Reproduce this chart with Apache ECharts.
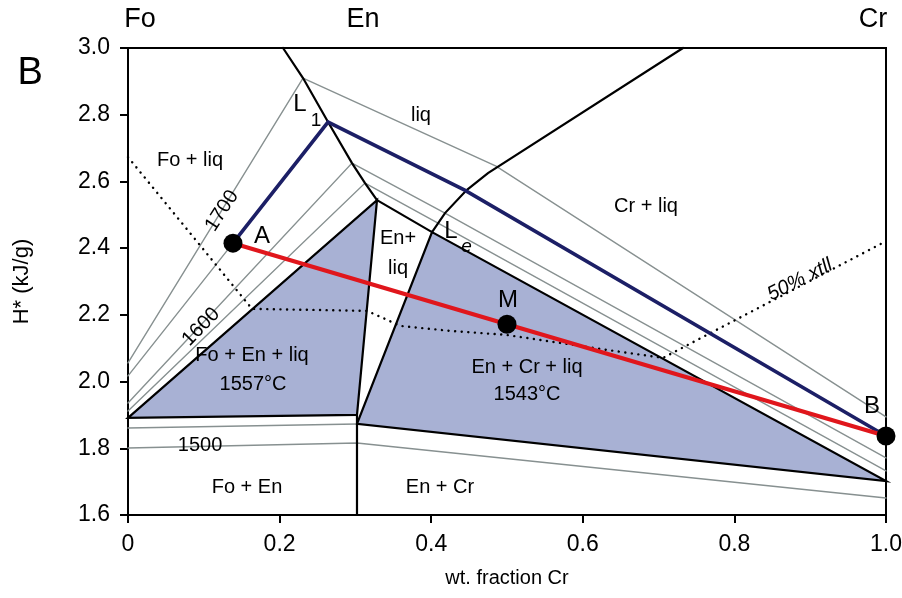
<!DOCTYPE html>
<html><head><meta charset="utf-8">
<script src="https://cdn.jsdelivr.net/npm/echarts@6/dist/echarts.min.js"></script>
<style>html,body{margin:0;padding:0;background:#fff}#c{width:902px;height:598px}</style>
</head><body><div id="c"></div>
<script>
// ---- data (wt. fraction Cr, H* kJ/g) ----
const xTicks = [0, 0.2, 0.4, 0.6, 0.8, 1.0];
const yTicks = [1.6, 1.8, 2.0, 2.2, 2.4, 2.6, 2.8, 3.0];
const foEnLiqField = [[0, 1.891], [0.3285, 2.544], [0.3021, 1.900]];
const enCrLiqField = [[0.4011, 2.448], [1.0, 1.702], [0.3021, 1.873]];
const foLiquidus = [[0.2045, 3.0], [0.2309, 2.910], [0.2639, 2.778], [0.2955, 2.655], [0.3127, 2.595], [0.3285, 2.544]];
const enLiquidus = [[0.3285, 2.544], [0.4011, 2.448]];
const crLiquidus = [[0.7322, 3.0], [0.4749, 2.625], [0.4468, 2.574], [0.4182, 2.505], [0.4011, 2.448]];
const enJoin = [[0.3021, 1.6], [0.3021, 1.900]];
const iso1700 = [[0, 2.056], [0.2309, 2.910], [0.4855, 2.646], [1.0, 1.894]];
const isoL1 = [[0, 2.017], [0.1385, 2.415]];
const iso1600 = [[0, 1.936], [0.2955, 2.655], [0.4182, 2.505], [1.0, 1.771]];
const isoLow = [[0, 1.912], [0.3127, 2.595], [0.4090, 2.475], [1.0, 1.732]];
const iso1540 = [[0, 1.861], [0.3021, 1.873]];
const iso1500 = [[0, 1.801], [0.3021, 1.816], [1.0, 1.651]];
const pathAL1B = [[0.1385, 2.415], [0.2639, 2.778], [0.4442, 2.574], [1.0, 1.837]];
const mixAB = [[0.1385, 2.415], [0.5, 2.172], [1.0, 1.837]];
const pointsAMB = [[0.1385, 2.415], [0.5, 2.172], [1.0, 1.837]];
const xtll50 = [[0, 2.673], [0.1636, 2.218], [0.3153, 2.212], [0.339, 2.188], [0.3588, 2.167], [0.4248, 2.152], [0.4987, 2.140], [0.6227, 2.098], [0.7058, 2.071], [1.0, 2.421]];
// annotations: text, x, y, rotation(deg), kind
const annotations = [
  ['Fo', 0.016, 3.086, 0, 'top'], ['En', 0.31, 3.086, 0, 'top'], ['Cr', 0.983, 3.086, 0, 'top'],
  ['B', -0.129, 2.925, 0, 'panel'],
  ['liq', 0.3865, 2.799, 0, 'r'], ['Fo + liq', 0.0818, 2.664, 0, 'r'],
  ['1700', 0.124, 2.512, 57, 'r'], ['1600', 0.0963, 2.164, 46, 'r'],
  ['L', 0.2269, 2.830, 0, 'big'], ['1', 0.2480, 2.782, 0, 'sub'],
  ['A', 0.1768, 2.436, 0, 'big'], ['En+', 0.3562, 2.430, 0, 'r'], ['liq', 0.3562, 2.340, 0, 'r'],
  ['L', 0.4261, 2.450, 0, 'big'], ['e', 0.4465, 2.404, 0, 'subi'],
  ['Cr + liq', 0.6834, 2.526, 0, 'r'], ['M', 0.5013, 2.2446, 0, 'big'],
  ['50% xtll', 0.8865, 2.3045, 27, 'ri'],
  ['Fo + En + liq', 0.1636, 2.0797, 0, 'r'], ['1557°C', 0.165, 1.99, 0, 'r'],
  ['En + Cr + liq', 0.5264, 2.0437, 0, 'r'], ['1543°C', 0.5264, 1.96, 0, 'r'],
  ['B', 0.9815, 1.927, 0, 'big'], ['1500', 0.095, 1.807, 0, 'r'],
  ['Fo + En', 0.157, 1.681, 0, 'r'], ['En + Cr', 0.4116, 1.681, 0, 'r']
];

const FONT = 'Liberation Sans, Arial, Helvetica, sans-serif';
const FILL = '#a8b1d4';
const GREY = '#879090';
const kindStyle = {
  top: {fontSize: 27}, panel: {fontSize: 38}, r: {fontSize: 20}, ri: {fontSize: 20, fontStyle: 'italic'},
  big: {fontSize: 24}, sub: {fontSize: 19}, subi: {fontSize: 19, fontStyle: 'italic'}
};

function poly(pts, z) {
  return {type: 'custom', silent: true, z: z, data: [[0, 0]],
    renderItem: (p, api) => ({type: 'polygon', shape: {points: pts.map(q => api.coord(q))},
      style: {fill: FILL, stroke: '#000', lineWidth: 2.2, lineJoin: 'miter'}})};
}
function line(pts, color, width, z, type, cap) {
  return {type: 'line', data: pts, showSymbol: false, symbol: 'none', silent: true, z: z,
    clip: false, animation: false,
    lineStyle: {color: color, width: width, type: type || 'solid', cap: cap || 'round', join: 'miter'}};
}

const chart = echarts.init(document.getElementById('c'), null, {renderer: 'canvas'});
chart.setOption({
  animation: false,
  grid: {left: 128, right: 16, top: 48, bottom: 83, show: true, borderColor: '#000', borderWidth: 2,
    backgroundColor: 'transparent', containLabel: false, outerBoundsMode: 'none'},
  xAxis: {type: 'value', min: 0, max: 1, interval: 0.2,
    name: 'wt. fraction Cr', nameLocation: 'middle', nameGap: 53,
    nameTextStyle: {fontSize: 20, fontFamily: FONT, color: '#000'},
    axisLine: {show: true, onZero: false, lineStyle: {color: '#000', width: 2}},
    axisTick: {show: true, length: 8, lineStyle: {color: '#000', width: 2}},
    axisLabel: {fontSize: 23, fontFamily: FONT, color: '#000', margin: 18,
      formatter: v => { const t = xTicks.find(k => Math.abs(k - v) < 1e-9); return t === 0 ? '0' : (t !== undefined ? t.toFixed(1) : ''); }},
    splitLine: {show: false}},
  yAxis: {type: 'value', min: 1.6, max: 3.0, interval: 0.2,
    name: 'H* (kJ/g)', nameLocation: 'middle', nameGap: 95, nameRotate: 90,
    nameTextStyle: {fontSize: 22, fontFamily: FONT, color: '#000'},
    axisLine: {show: true, onZero: false, lineStyle: {color: '#000', width: 2}},
    axisTick: {show: true, length: 8, lineStyle: {color: '#000', width: 2}},
    axisLabel: {fontSize: 23, fontFamily: FONT, color: '#000', margin: 18,
      formatter: v => { const t = yTicks.find(k => Math.abs(k - v) < 1e-9); return t !== undefined ? t.toFixed(1) : ''; }},
    splitLine: {show: false}},
  series: [
    poly(foEnLiqField, 1), poly(enCrLiqField, 1),
    line(iso1700, GREY, 1.4, 2), line(isoL1, GREY, 1.4, 2), line(iso1600, GREY, 1.4, 2), line(isoLow, GREY, 1.4, 2),
    line(iso1540, GREY, 1.4, 2), line(iso1500, GREY, 1.4, 2),
    line(xtll50, '#000', 2.4, 3, [0.1, 6.5], 'round'),
    line(foLiquidus, '#000', 2.2, 4), line(enLiquidus, '#000', 2.2, 4), line(crLiquidus, '#000', 2.2, 4), line(enJoin, '#000', 2.2, 4),
    line(pathAL1B, '#1c1f66', 3.6, 5), line(mixAB, '#e0161c', 4.2, 6),
    {type: 'scatter', data: pointsAMB, symbolSize: 19, itemStyle: {color: '#000', opacity: 1}, z: 7, silent: true},
    {type: 'custom', silent: true, z: 8, data: annotations.map((a, i) => [a[1], a[2], i]),
      renderItem: (p, api) => {
        const a = annotations[p.dataIndex];
        const c = api.coord([a[1], a[2]]);
        const ks = kindStyle[a[4]];
        return {type: 'text', x: c[0], y: c[1], rotation: a[3] * Math.PI / 180,
          style: {text: a[0], fill: '#000', fontSize: ks.fontSize, fontStyle: ks.fontStyle || 'normal',
            fontFamily: FONT, align: 'center', verticalAlign: 'middle'}};
      }}
  ]
});
</script></body></html>
